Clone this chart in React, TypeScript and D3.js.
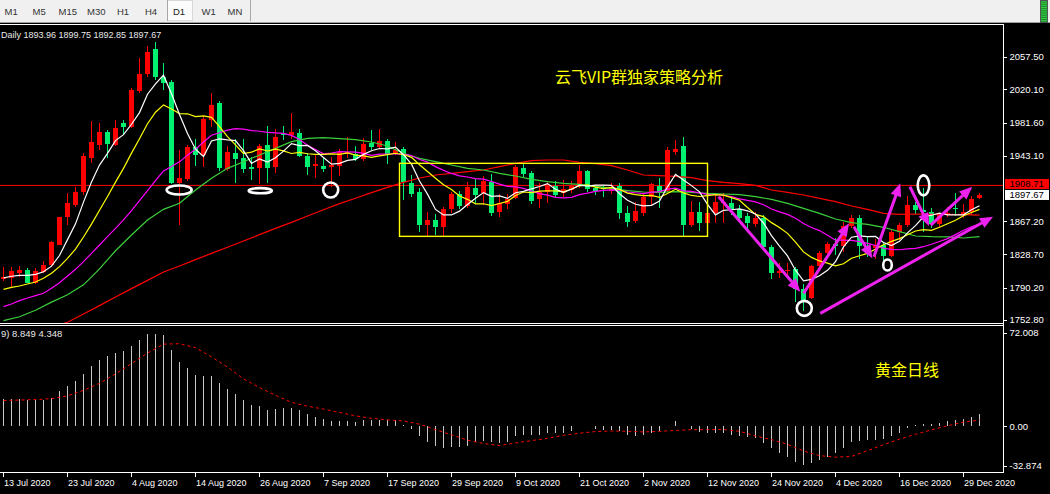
import React from 'react';
import * as d3 from 'd3';

// ---------------- DATA ----------------
const opens = [1799.9,1801.1,1807.6,1810.7,1796.0,1808.0,1816.5,1840.1,1871.7,1886.0,
1901.1,1940.9,1955.9,1970.6,1955.9,1980.6,1976.0,2018.5,2037.8,2066.4,
2034.7,2028.2,1911.1,1915.8,1953.6,1943.6,1984.5,2004.6,1927.7,1945.9,
1940.1,1930.1,1929.3,1955.2,1930.1,1968.3,1966.7,1969.1,1942.8,1931.2,
1931.2,1930.4,1931.2,1945.5,1945.1,1938.9,1958.2,1953.6,1960.2,1944.7,
1950.9,1911.9,1901.1,1862.9,1868.7,1860.9,1881.4,1898.4,1884.9,1905.7,
1899.5,1913.1,1878.3,1887.2,1893.8,1928.5,1922.7,1892.6,1901.5,1908.0,
1899.5,1903.4,1908.4,1925.4,1905.3,1906.5,1902.6,1908.4,1877.1,1867.5,
1877.1,1894.9,1908.0,1902.6,1947.8,1954.4,1862.9,1878.3,1865.6,1876.4,
1887.9,1887.9,1881.0,1873.7,1863.6,1871.3,1837.0,1806.9,1809.0,1811.5,
1788.3,1777.9,1815.3,1830.0,1841.0,1838.0,1862.0,1871.5,1838.5,1836.5,
1839.7,1826.5,1854.5,1862.5,1886.0,1880.8,1878.0,1863.5,1874.0,1883.0,
1874.5,1877.5,1893.96];
const highs = [1813.8,1814.6,1815.3,1812.7,1813.0,1821.5,1844.7,1872.5,1899.5,1907.3,
1946.7,1983.4,1980.6,1972.9,1984.5,1984.5,2021.2,2056.0,2070.2,2075.3,
2050.2,2030.9,1949.7,1955.5,1962.1,1989.1,2015.4,2006.5,1954.4,1962.1,
1962.9,1942.0,1956.7,1977.6,1973.7,1977.6,1993.0,1974.5,1945.9,1944.0,
1940.1,1941.3,1950.5,1965.0,1954.4,1963.3,1972.9,1973.7,1962.1,1959.4,
1953.6,1920.8,1905.3,1878.3,1875.6,1884.1,1901.5,1902.2,1913.1,1915.8,
1919.6,1921.9,1898.8,1898.8,1932.4,1934.3,1925.8,1911.9,1913.1,1914.2,
1915.0,1914.2,1932.4,1926.6,1909.2,1909.2,1911.1,1911.1,1884.9,1889.9,
1898.8,1911.9,1916.9,1952.8,1961.3,1965.2,1891.1,1889.9,1880.2,1900.3,
1900.3,1895.7,1886.0,1876.4,1878.3,1874.5,1839.7,1819.2,1818.4,1814.6,
1795.0,1816.5,1833.1,1843.6,1848.0,1866.0,1875.0,1875.0,1850.0,1847.0,
1843.0,1857.0,1865.0,1896.0,1889.0,1906.0,1882.0,1877.0,1884.0,1900.0,
1887.0,1897.0,1899.75];
const lows = [1798.4,1789.5,1802.2,1795.3,1794.5,1806.9,1814.6,1839.3,1862.9,1884.1,
1897.6,1934.3,1949.7,1940.1,1954.4,1967.1,1974.9,2015.4,2034.7,2030.9,
2019.3,1910.4,1862.9,1914.2,1931.2,1929.7,1976.0,1925.4,1925.4,1911.1,
1922.7,1915.0,1910.4,1911.1,1922.7,1961.3,1962.9,1941.3,1920.8,1916.9,
1924.6,1907.3,1919.6,1940.5,1937.4,1937.4,1949.7,1951.7,1933.5,1943.9,
1891.8,1894.9,1855.1,1848.6,1851.3,1848.6,1876.4,1881.0,1882.2,1887.9,
1886.0,1873.3,1872.5,1881.4,1892.6,1918.9,1887.2,1882.2,1888.7,1895.7,
1895.7,1899.5,1905.3,1901.5,1897.6,1895.7,1898.8,1869.4,1860.2,1864.8,
1873.7,1886.0,1882.2,1901.5,1943.9,1850.1,1860.2,1856.3,1862.0,1864.8,
1864.8,1874.5,1866.7,1857.1,1860.9,1835.8,1799.9,1801.1,1802.2,1774.0,
1763.6,1776.7,1812.7,1828.1,1828.0,1831.0,1859.0,1823.0,1826.0,1824.0,
1819.0,1826.0,1845.0,1860.0,1876.0,1855.0,1859.0,1861.0,1872.0,1873.0,
1871.0,1875.0,1892.85];
const closes = [1802.2,1809.9,1810.7,1796.0,1809.9,1816.5,1842.8,1872.1,1888.3,1901.1,
1942.8,1958.6,1970.6,1956.3,1975.2,1976.8,2019.3,2037.8,2062.9,2034.7,
2027.8,1911.1,1917.3,1953.6,1943.6,1985.7,2001.5,1929.3,1947.4,1939.3,
1928.1,1927.4,1954.4,1929.3,1964.4,1966.7,1970.6,1942.8,1930.4,1933.5,
1928.1,1932.4,1947.0,1947.5,1939.7,1956.7,1953.6,1960.2,1945.1,1949.7,
1913.1,1898.8,1862.9,1868.7,1860.9,1881.4,1898.4,1884.9,1907.3,1897.6,
1913.8,1876.4,1887.9,1892.6,1930.4,1921.9,1891.1,1901.5,1909.2,1897.6,
1904.2,1908.4,1925.4,1904.2,1902.6,1904.2,1907.3,1877.1,1866.7,1879.1,
1894.9,1910.4,1901.5,1949.7,1950.9,1862.9,1877.5,1865.6,1877.1,1889.9,
1889.5,1880.2,1871.3,1865.6,1871.3,1837.8,1806.9,1809.9,1810.6,1788.3,
1776.5,1815.3,1830.8,1840.8,1838.5,1862.0,1871.5,1838.5,1836.5,1839.7,
1826.5,1854.5,1862.5,1886.0,1880.8,1878.0,1863.5,1874.0,1877.0,1881.0,
1877.5,1893.0,1897.67];

const maWhite = [1801.5,1803.5,1804.5,1804.5,1805.7,1808.6,1815.2,1827.5,1845.9,1864.2,
1889.4,1912.6,1932.3,1945.9,1960.7,1967.5,1979.6,1993.1,2014.4,2026.3,
2036.5,2014.9,1990.8,1968.9,1950.7,1942.3,1960.3,1962.7,1961.5,1960.6,
1949.1,1934.3,1939.3,1935.7,1940.7,1948.4,1957.1,1954.8,1955.0,1948.8,
1941.1,1933.4,1934.3,1937.7,1938.9,1944.7,1948.9,1951.5,1951.1,1953.1,
1944.3,1933.4,1913.9,1898.6,1880.9,1874.5,1874.5,1878.9,1886.6,1893.9,
1900.4,1896.0,1896.6,1893.7,1900.2,1901.8,1904.8,1907.5,1910.8,1904.3,
1900.7,1904.2,1909.0,1908.0,1909.0,1909.0,1908.7,1899.1,1891.6,1886.9,
1885.0,1885.6,1890.5,1907.1,1921.5,1915.1,1908.5,1901.3,1886.8,1874.6,
1879.9,1880.5,1881.6,1879.3,1875.6,1865.2,1850.6,1838.3,1827.1,1810.5,
1798.2,1799.9,1804.1,1810.3,1820.4,1837.5,1848.7,1850.3,1849.4,1849.6,
1842.5,1839.1,1843.9,1853.8,1862.1,1872.4,1874.2,1876.5,1874.7,1874.7,
1874.6,1880.5,1885.2];
const maYellow = [1788.3,1790.6,1792.2,1794.5,1796.8,1801.1,1806.9,1814.6,1824.2,1835.0,
1849.0,1863.9,1879.9,1895.9,1912.5,1928.5,1946.1,1962.7,1980.2,1993.5,
2002.0,1997.3,1992.0,1991.7,1988.5,1989.4,1987.6,1976.8,1965.2,1955.7,
1945.7,1947.3,1951.0,1948.6,1950.7,1948.8,1945.7,1947.1,1945.4,1944.8,
1944.8,1945.3,1944.6,1946.4,1943.9,1942.9,1941.2,1942.9,1944.4,1946.0,
1944.5,1941.2,1932.7,1924.9,1917.0,1909.4,1904.0,1896.4,1892.6,1887.4,
1887.5,1885.3,1887.8,1890.2,1897.1,1901.1,1900.4,1902.1,1902.3,1902.3,
1901.3,1904.5,1908.3,1909.4,1906.7,1904.9,1906.5,1904.1,1899.8,1898.0,
1897.0,1897.2,1894.8,1899.4,1904.2,1900.1,1897.1,1895.9,1897.0,1898.1,
1897.5,1894.5,1891.5,1883.1,1875.1,1872.6,1865.6,1860.0,1853.2,1843.1,
1831.7,1825.3,1821.2,1818.7,1815.5,1817.9,1824.3,1827.2,1829.9,1835.0,
1840.0,1843.9,1847.1,1851.6,1855.9,1857.5,1856.7,1860.2,1864.3,1868.4,
1873.5,1877.4,1880.9];
const maMagenta = [1768.2,1771.3,1775.2,1778.3,1781.0,1783.7,1789.5,1796.0,1803.8,1811.5,
1820.4,1830.0,1839.7,1849.3,1859.0,1868.7,1879.5,1891.1,1902.6,1914.3,
1925.5,1930.6,1936.0,1943.8,1950.5,1959.0,1966.9,1969.8,1972.7,1974.6,
1973.9,1972.3,1971.5,1970.2,1969.6,1969.1,1966.7,1962.0,1955.3,1950.3,
1945.3,1946.3,1947.8,1947.5,1947.3,1945.9,1943.5,1945.0,1944.9,1945.4,
1944.7,1943.3,1938.7,1935.7,1930.5,1926.2,1922.6,1919.7,1918.5,1916.7,
1916.0,1913.3,1910.3,1907.6,1907.1,1905.3,1902.2,1899.3,1897.5,1894.9,
1894.4,1894.9,1898.1,1899.8,1901.9,1903.0,1903.5,1903.1,1901.1,1900.2,
1899.2,1900.9,1901.6,1904.4,1905.5,1902.5,1901.8,1900.0,1898.4,1898.1,
1897.3,1895.9,1893.2,1891.3,1889.7,1886.4,1881.4,1878.0,1875.1,1870.6,
1864.6,1859.9,1856.4,1850.9,1845.3,1845.3,1845.0,1843.6,1841.6,1839.1,
1835.9,1834.6,1834.2,1835.2,1835.7,1837.7,1840.5,1843.7,1847.1,1851.7,
1856.8,1860.7,1864.0];
// green MA read every 2 bars from bar 0
const maGreenStart = 0;
const maGreen = [1752.0,1756.5,1764.0,1773.5,1782.0,1793.5,1812.0,1833.0,1851.3,1868.7,
1881.0,1888.0,1903.4,1916.9,1928.5,1936.2,1944.0,1951.7,1959.4,1963.3,
1964.0,1962.9,1961.7,1959.0,1954.4,1945.9,1940.1,1936.2,1932.4,1928.5,
1926.6,1922.7,1919.6,1915.8,1913.1,1911.1,1910.0,1908.0,1905.3,1902.6,
1901.1,1900.7,1901.5,1900.7,1899.5,1898.8,1898.0,1895.7,1892.6,1887.9,
1882.2,1876.4,1869.8,1865.6,1863.6,1860.2,1855.1,1850.1,1849.3,1849.0,
1847.8,1849.3];
// red MA read every 2 bars from bar 6
const maRedStart = 6;
const maRed = [1744.5,1750.1,1759.7,1769.4,1779.4,1789.1,1798.7,1808.4,1815.3,1822.7,
1830.0,1837.0,1844.3,1851.7,1859.0,1865.9,1873.3,1880.6,1887.6,1893.8,
1900.3,1906.5,1912.3,1917.3,1920.8,1922.7,1924.6,1926.6,1930.4,1934.3,
1937.4,1938.2,1938.2,1935.5,1933.9,1931.6,1926.6,1920.8,1920.0,1919.2,
1917.7,1914.2,1912.3,1910.7,1908.8,1903.4,1900.7,1897.6,1893.8,1889.9,
1884.9,1881.0,1876.4,1875.2,1875.6,1875.2,1875.2,1874.8,1874.4];
const maStep = 2;

const macdMain = [19.6,19.6,19.9,19.1,18.7,19.1,20.3,25.1,28.7,32.3,
37.8,43.5,47.8,50.2,52.6,54.3,57.9,61.7,66.0,66.5,
65.8,55.0,46.4,41.6,37.1,36.4,36.4,30.9,27.0,23.4,
19.1,15.6,14.8,12.0,12.7,13.4,13.4,11.5,9.1,6.9,
5.0,3.6,3.6,3.6,2.9,4.3,4.8,4.8,4.3,4.8,
1.0,-1.9,-7.2,-11.5,-14.4,-15.8,-14.8,-14.8,-13.9,-11.5,
-10.8,-11.5,-12.0,-11.0,-7.2,-6.0,-6.0,-6.0,-4.8,-4.8,
-4.8,-3.6,0.5,0.3,-1.9,-2.4,-2.4,-3.6,-6.0,-6.7,
-6.0,-4.8,-3.6,0.5,4.1,0.4,-1.9,-4.4,-4.8,-4.8,
-4.8,-6.0,-6.7,-7.7,-8.5,-12.1,-15.8,-18.9,-21.8,-25.5,
-27.9,-26.7,-24.3,-21.8,-19.4,-15.8,-11.6,-10.9,-10.2,-9.7,
-9.0,-7.3,-4.8,-1.2,1.2,1.9,1.9,2.4,4.1,4.4,
5.3,6.8,8.849];
// signal read every 2 bars from bar 0
const macdSignal = [18.5,18.8,19.2,19.8,21.8,25.8,30.8,37.6,45.0,52.6,
59.0,59.3,56.4,49.8,42.5,34.0,27.8,22.2,17.2,14.4,
12.3,9.9,7.5,5.7,4.6,3.8,1.5,-2.4,-6.2,-10.0,
-12.4,-13.9,-12.0,-10.3,-8.7,-6.5,-5.0,-3.8,-3.4,-3.6,
-4.1,-3.7,-3.0,-2.5,-2.4,-2.4,-3.6,-7.0,-9.6,-13.0,
-17.8,-21.1,-22.2,-21.7,-17.5,-13.3,-9.3,-5.8,-2.6,0.3,
3.0,4.348];

const dateLabels = ['13 Jul 2020','23 Jul 2020','4 Aug 2020','14 Aug 2020','26 Aug 2020','7 Sep 2020','17 Sep 2020','29 Sep 2020','9 Oct 2020','21 Oct 2020','2 Nov 2020','12 Nov 2020','24 Nov 2020','4 Dec 2020','16 Dec 2020','29 Dec 2020'];
const dateBars = [0,8,16,24,32,40,48,56,64,72,80,88,96,104,112,120];
const priceTicks = [2057.5, 2020.1, 1981.6, 1943.1, 1867.2, 1828.7, 1790.2, 1752.8];
const macdTicks = [72.008, 0, -32.874];
const hLinePrice = 1908.71;
const lastPrice = 1897.67;
const timeframes = ['M1','M5','M15','M30','H1','H4','D1','W1','MN'];
const activeTf = 'D1';

// annotations (bar index, price)
const boxAnno = { b1: 49.5, b2: 88, p1: 1934.3, p2: 1849.7 };
const ellipses = [
  { b: 21.96, p: 1903.4, rx: 12.5, ry: 4.5 },
  { b: 32.1, p: 1902.6, rx: 11.6, ry: 2.6 },
  { b: 40.9, p: 1903.4, rx: 7.5, ry: 7.5 },
  { b: 100.1, p: 1766.3, rx: 7.5, ry: 7.5 },
  { b: 115.0, p: 1908.8, rx: 5.8, ry: 10 },
  { b: 110.5, p: 1816.5, rx: 4.3, ry: 5.5 },
];
const arrows = [
  [89.4, 1895.6, 99.6, 1785.6],
  [100.0, 1783.7, 105.7, 1864.8],
  [106.3, 1860.9, 108.6, 1824.3],
  [108.8, 1826.1, 112.1, 1911.2],
  [113.3, 1907.2, 115.7, 1861.7],
  [115.9, 1862.8, 121.1, 1907.2],
  [102.1, 1760.5, 123.7, 1872.5],
];

// ---------------- LAYOUT ----------------
const W = 1050, H = 494;
const PANE_R = 1003;
const MAIN_T = 25, MAIN_B = 323;
const SUB_T = 326, SUB_B = 472;
const FONT = "'Liberation Sans', Arial, sans-serif";
const CJK = "'Noto Sans CJK SC', sans-serif";
const BULL = '#ff0000';
const BEAR = '#00f070';
const tfX = [4.5, 32.5, 58.5, 87, 117, 145, 173, 201.5, 227.5];

export default function App() {
  const n = closes.length;
  const x = d3.scaleLinear().domain([0, n - 1]).range([3.5, 3.5 + 8 * (n - 1)]);
  const y = d3.scaleLinear().domain([1749.3, 2094.6]).range([MAIN_B, MAIN_T]);
  const ym = d3.scaleLinear().domain([-32.874, 72.008]).range([SUB_B, SUB_T]);

  const fullLine = (arr: number[]) =>
    d3.line<number>().x((_, i) => x(i)).y(v => y(v))(arr) || '';
  const stepLine = (arr: number[], start: number) =>
    d3.line<number>().x((_, i) => x(start + i * maStep)).y(v => y(v))(arr) || '';
  const sigPath = d3.line<number>().x((_, i) => x(i * maStep)).y(v => ym(v))(macdSignal) || '';

  const whiteTop = y(lastPrice) - 5;
  const redTop = Math.min(y(hLinePrice) - 5, whiteTop - 11);

  const arrowEls = arrows.map((a, k) => {
    const x1 = x(a[0]), y1 = y(a[1]), x2 = x(a[2]), y2 = y(a[3]);
    const dx = x2 - x1, dy = y2 - y1, len = Math.hypot(dx, dy);
    const ux = dx / len, uy = dy / len;
    const L = 13, hw = 5.5;
    const bx = x2 - ux * L, by = y2 - uy * L;
    const pts = `${x2},${y2} ${bx - uy * hw},${by + ux * hw} ${bx + uy * hw},${by - ux * hw}`;
    return (
      <g key={k}>
        <line x1={x1} y1={y1} x2={bx + ux * 2} y2={by + uy * 2} stroke="#ee22ee" strokeWidth={3} />
        <polygon points={pts} fill="#ee22ee" />
      </g>
    );
  });

  return (
    <div style={{ position: 'fixed', left: 0, top: 0, width: W, height: H, overflow: 'hidden' }}>
      <svg width={W} height={H} style={{ display: 'block', background: '#000' }}>
        <defs>
          <clipPath id="mainClip"><rect x={0} y={MAIN_T} width={PANE_R} height={MAIN_B - MAIN_T} /></clipPath>
          <clipPath id="subClip"><rect x={0} y={SUB_T} width={PANE_R} height={SUB_B - SUB_T} /></clipPath>
        </defs>

        {/* toolbar */}
        <rect x={0} y={0} width={W} height={22} fill="#f0f0f0" />
        <line x1={0} x2={W} y1={22.5} y2={22.5} stroke="#a0a0a0" />
        <rect x={167.5} y={0.5} width={25} height={20} fill="#fbfbfb" stroke="#d8d8d8" />
        <line x1={167.5} x2={167.5} y1={0} y2={21} stroke="#a8a8a8" />
        <line x1={250.5} x2={250.5} y1={0} y2={21} stroke="#a8a8a8" />
        {timeframes.map((t, k) => (
          <text key={t} x={tfX[k]} y={14.5} fontFamily={FONT} fontSize={9.5}
            fill={t === activeTf ? '#222' : '#333'}>{t}</text>
        ))}
        <rect x={1040.5} y={0.5} width={7} height={22} fill="#33cc44" stroke="#555" />
        {d3.range(2, 22, 2.2).map((v, k) => (
          <line key={k} x1={1041} x2={1047} y1={v} y2={v} stroke="#1a6622" strokeWidth={0.7} />
        ))}

        {/* pane borders */}
        <line x1={0} x2={PANE_R} y1={24.5} y2={24.5} stroke="#fff" />
        <line x1={0} x2={PANE_R + 0.5} y1={323.5} y2={323.5} stroke="#fff" />
        <line x1={0} x2={PANE_R + 0.5} y1={325.5} y2={325.5} stroke="#fff" />
        <line x1={0} x2={PANE_R + 0.5} y1={472.5} y2={472.5} stroke="#fff" />
        <line x1={PANE_R + 0.5} x2={PANE_R + 0.5} y1={24} y2={473} stroke="#fff" />

        {/* main pane */}
        <g clipPath="url(#mainClip)">
          <line x1={0} x2={PANE_R} y1={y(hLinePrice)} y2={y(hLinePrice)} stroke="#ff0000" />
          <g shapeRendering="crispEdges">
            {closes.map((c, i) => {
              const o = opens[i];
              const col = c >= o ? BULL : BEAR;
              const cx = x(i);
              const t = Math.round(y(Math.max(o, c)));
              const b = Math.round(y(Math.min(o, c)));
              return (
                <g key={i}>
                  <line x1={cx} x2={cx} y1={y(highs[i])} y2={y(lows[i])} stroke={col} />
                  <rect x={cx - 2.5} y={t} width={5} height={Math.max(1, b - t)} fill={col} />
                </g>
              );
            })}
          </g>
          <path d={stepLine(maRed, maRedStart)} fill="none" stroke="#ff0000" strokeWidth={1.2} />
          <path d={stepLine(maGreen, maGreenStart)} fill="none" stroke="#3ccf3c" strokeWidth={1.2} />
          <path d={fullLine(maMagenta)} fill="none" stroke="#ff00ff" strokeWidth={1.2} />
          <path d={fullLine(maYellow)} fill="none" stroke="#ffff00" strokeWidth={1.2} />
          <path d={fullLine(maWhite)} fill="none" stroke="#ffffff" strokeWidth={1.2} />

          <rect x={x(boxAnno.b1)} y={y(boxAnno.p1)} width={x(boxAnno.b2) - x(boxAnno.b1)}
            height={y(boxAnno.p2) - y(boxAnno.p1)} fill="none" stroke="#ffff00" strokeWidth={1.4} />
          {ellipses.map((e, k) => (
            <ellipse key={k} cx={x(e.b)} cy={y(e.p)} rx={e.rx} ry={e.ry} fill="none" stroke="#fff" strokeWidth={2.6} />
          ))}
          {arrowEls}
        </g>
        <text x={1} y={37.5} fontFamily={FONT} fontSize={9} fill="#e8e8e8">Daily  1893.96 1899.75 1892.85 1897.67</text>
        <text x={555} y={83} fontFamily={CJK} fontSize={16} fill="#ffff00">云飞VIP群独家策略分析</text>

        {/* price axis */}
        {priceTicks.map(p => (
          <g key={p}>
            <line x1={PANE_R} x2={PANE_R + 4} y1={Math.round(y(p)) + 0.5} y2={Math.round(y(p)) + 0.5} stroke="#fff" />
            <text x={1009.5} y={y(p)} dy="0.35em" fontFamily={FONT} fontSize={9.5} fill="#fff">{p.toFixed(2)}</text>
          </g>
        ))}
        <rect x={1005} y={redTop} width={44} height={10} fill="#ff0000" />
        <text x={1009.5} y={redTop + 5} dy="0.35em" fontFamily={FONT} fontSize={9.5} fill="#000">{hLinePrice.toFixed(2)}</text>
        <rect x={1005} y={whiteTop} width={44} height={10} fill="#ffffff" />
        <text x={1009.5} y={whiteTop + 5} dy="0.35em" fontFamily={FONT} fontSize={9.5} fill="#000">{lastPrice.toFixed(2)}</text>

        {/* MACD pane */}
        <g clipPath="url(#subClip)">
          <g shapeRendering="crispEdges">
            {macdMain.map((v, i) => (
              <line key={i} x1={x(i)} x2={x(i)} y1={ym(0)} y2={ym(v)} stroke="#c8c8c8" />
            ))}
          </g>
          <path d={sigPath} fill="none" stroke="#ff0000" strokeWidth={1} strokeDasharray="3,3" />
        </g>
        <text x={1} y={337} fontFamily={FONT} fontSize={9.5} fill="#e8e8e8">9) 8.849 4.348</text>
        <text x={875} y={376} fontFamily={CJK} fontSize={16} fill="#ffff00">黄金日线</text>
        {macdTicks.map((v, k) => {
          const yy = k === 0 ? SUB_T + 7 : k === 2 ? SUB_B - 6 : ym(v);
          return (
            <g key={v}>
              <line x1={PANE_R} x2={PANE_R + 4} y1={Math.round(yy) + 0.5} y2={Math.round(yy) + 0.5} stroke="#fff" />
              <text x={1009.5} y={yy} dy="0.35em" fontFamily={FONT} fontSize={9.5} fill="#fff">
                {v === 0 ? '0.00' : String(v)}
              </text>
            </g>
          );
        })}

        {/* date axis */}
        {dateLabels.map((d, k) => (
          <g key={d}>
            <line x1={x(dateBars[k])} x2={x(dateBars[k])} y1={473} y2={477} stroke="#fff" />
            <text x={x(dateBars[k]) + 0.5} y={485.5} fontFamily={FONT} fontSize={9} fill="#fff">{d}</text>
          </g>
        ))}
      </svg>
    </div>
  );
}
